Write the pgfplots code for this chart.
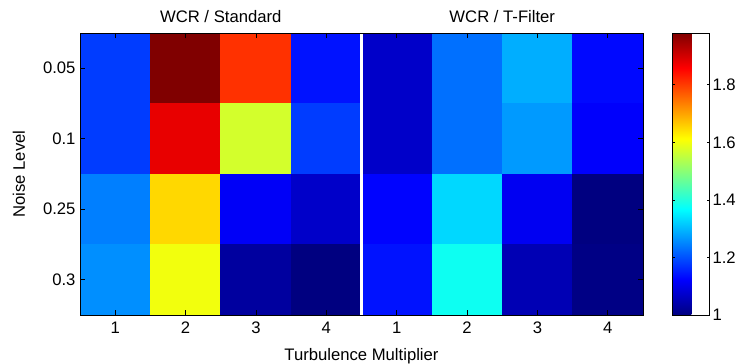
\documentclass[border=0pt]{standalone}
\usepackage{fontspec}
\setmainfont{Liberation Sans}
\usepackage{pgfplots}
\pgfplotsset{compat=1.18}
\usepackage{pgfplotstable}
\pgfplotstableread{
x y c
1 1 1.18
2 1 1.98
3 1 1.81
4 1 1.14
5 1 1.07
6 1 1.23
7 1 1.29
8 1 1.13
1 2 1.18
2 2 1.88
3 2 1.57
4 2 1.18
5 2 1.07
6 2 1.23
7 2 1.27
8 2 1.12
1 3 1.245
2 3 1.65
3 3 1.115
4 3 1.07
5 3 1.125
6 3 1.33
7 3 1.11
8 3 1.00
1 4 1.26
2 4 1.60
3 4 1.03
4 4 1.00
5 4 1.14
6 4 1.38
7 4 1.05
8 4 1.005
}\datatable
\newcommand\fs{\fontsize{12.5}{14}\selectfont}
\begin{document}
\fs
\begin{tikzpicture}
\begin{axis}[
  name=main,
  scale only axis,
  width=422.25pt, height=211.5pt,
  xmin=0.5, xmax=8.5, ymin=0.5, ymax=4.5,
  y dir=reverse,
  enlargelimits=false,
  clip=false,
  axis on top,
  xtick={1,...,8},
  xticklabels={1,2,3,4,1,2,3,4},
  ytick={1,2,3,4},
  yticklabels={0.05,0.1,0.25,0.3},
  tick align=inside,
  major tick length=4pt,
  tick style={black, line width=0.5pt},
  axis line style={black, line width=0.6pt},
  ticklabel style={font=\fs},
  label style={font=\fs},
  yticklabel style={xshift=1pt},
  xticklabel style={yshift=-1pt},
  xlabel={Turbulence Multiplier},
  ylabel={Noise Level},
  xlabel style={yshift=-2pt},
  ylabel style={yshift=5pt},
  /pgf/number format/assume math mode=true,
  colormap/jet,
  point meta min=1, point meta max=1.98,
  colorbar,
  colorbar style={
    width=27.75pt,
    at={(parent axis.north east)}, anchor=north west, xshift=13.5pt,
    ytick={1,1.2,1.4,1.6,1.8},
    yticklabel style={font=\fs, /pgf/number format/fixed, /pgf/number format/precision=1, xshift=-2pt},
    /pgf/number format/assume math mode=true,
    tick align=inside,
    major tick length=2pt,
    axis line style={black, line width=0.6pt},
  },
]
\addplot[matrix plot*, mesh/cols=8, point meta=explicit] table[x=x, y=y, meta=c] {\datatable};
\draw[white, line width=1.8pt] (axis cs:4.5,0.5) -- (axis cs:4.5,4.5);
\node[anchor=base, font=\fs, yshift=7.5pt] at (axis cs:2.5,0.5) {WCR / Standard};
\node[anchor=base, font=\fs, yshift=7.5pt] at (axis cs:6.5,0.5) {WCR / T-Filter};
\end{axis}
\pgfresetboundingbox
\path ([shift={(-60pt,-36pt)}]main.south west) rectangle ([shift={(71.25pt,24.75pt)}]main.north east);
\end{tikzpicture}
\end{document}
